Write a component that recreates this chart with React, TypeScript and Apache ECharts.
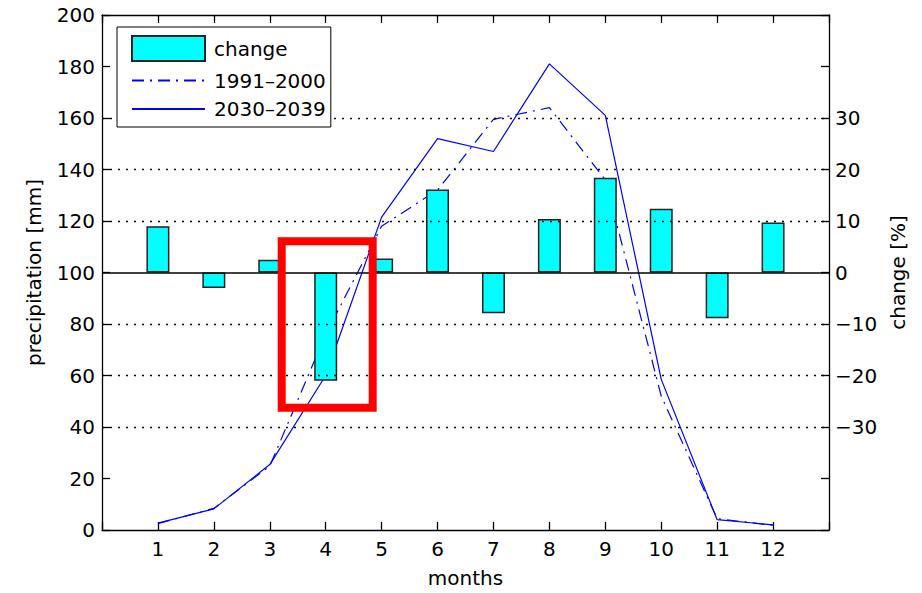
import React, { useEffect, useRef } from 'react';
import * as echarts from 'echarts';

const months = [1, 2, 3, 4, 5, 6, 7, 8, 9, 10, 11, 12];
const changePct = [9.0, -3.0, 2.5, -21.0, 2.7, 16.1, -7.9, 10.4, 18.4, 12.4, -8.9, 9.7];
const precip1991 = [2.5, 8.4, 24.8, 76, 118, 132, 159.5, 164, 136, 52, 4.4, 1.8];
const precip2030 = [2.7, 8.2, 25.4, 60, 121.5, 152, 147, 181, 161, 58.5, 4.0, 2.0];
const gridLevels = [40, 60, 80, 120, 140, 160];
const rightLabelRange = [-30, 30];
const seriesNames = ['change', '1991–2000', '2030–2039'];

const FONT = 'DejaVu Sans';

export default function App() {
  const ref = useRef<HTMLDivElement>(null);
  useEffect(() => {
    if (!ref.current) return;
    const chart = echarts.init(ref.current, undefined, { renderer: 'svg' });
    const axisLine = { show: true, onZero: false, lineStyle: { color: '#000', width: 1.3 } };
    const tick = { show: true, inside: true, length: 8, lineStyle: { color: '#000', width: 1.3 } };
    const fmtMinus = (v: number) => (v < 0 ? '−' + Math.abs(v) : String(v));
    const hiddenSymbol = { color: 'rgba(0,0,0,0)', borderColor: 'rgba(0,0,0,0)', borderWidth: 0 };
    chart.setOption({
      animation: false,
      textStyle: { fontFamily: FONT, color: '#000' },
      grid: { left: 102, right: 93, top: 15, bottom: 60, containLabel: false },
      legend: {
        orient: 'vertical',
        left: 117,
        top: 27,
        itemWidth: 73,
        itemHeight: 25,
        itemGap: 8.5,
        padding: [8, 5, 8, 14],
        backgroundColor: '#fff',
        borderColor: '#000',
        borderWidth: 1,
        textStyle: { fontFamily: FONT, fontSize: 20, color: '#000', padding: [0, 0, 0, 4] },
        data: [
          { name: seriesNames[0], icon: 'rect' },
          { name: seriesNames[1], itemStyle: hiddenSymbol },
          { name: seriesNames[2], itemStyle: hiddenSymbol },
        ],
        z: 10,
      },
      xAxis: [
        {
          type: 'value',
          position: 'bottom',
          min: 0,
          max: 13,
          interval: 1,
          name: 'months',
          nameLocation: 'middle',
          nameGap: 38,
          nameTextStyle: { fontFamily: FONT, fontSize: 20, color: '#000' },
          axisLine,
          axisTick: tick,
          splitLine: { show: false },
          axisLabel: {
            fontFamily: FONT,
            fontSize: 20,
            color: '#000',
            margin: 9,
            formatter: (v: number) => (v >= months[0] && v <= months[months.length - 1] ? String(v) : ''),
          },
        },
        {
          type: 'value',
          position: 'top',
          min: 0,
          max: 13,
          interval: 1,
          axisLine,
          axisTick: tick,
          splitLine: { show: false },
          axisLabel: { show: false },
        },
      ],
      yAxis: [
        {
          type: 'value',
          position: 'left',
          min: 0,
          max: 200,
          interval: 20,
          name: 'precipitation [mm]',
          nameLocation: 'middle',
          nameGap: 58,
          nameTextStyle: { fontFamily: FONT, fontSize: 20, color: '#000' },
          axisLine,
          axisTick: tick,
          splitLine: { show: false },
          axisLabel: { fontFamily: FONT, fontSize: 20, color: '#000', margin: 7 },
        },
        {
          type: 'value',
          position: 'right',
          min: -50,
          max: 50,
          interval: 10,
          name: 'change [%]',
          nameLocation: 'middle',
          nameRotate: 90,
          nameGap: 56,
          nameTextStyle: { fontFamily: FONT, fontSize: 20, color: '#000' },
          axisLine,
          axisTick: tick,
          splitLine: { show: false },
          axisLabel: {
            fontFamily: FONT,
            fontSize: 20,
            color: '#000',
            margin: 6,
            formatter: (v: number) => (v >= rightLabelRange[0] && v <= rightLabelRange[1] ? fmtMinus(v) : ''),
          },
        },
      ],
      series: [
        {
          name: seriesNames[0],
          type: 'bar',
          xAxisIndex: 0,
          yAxisIndex: 1,
          barWidth: 23,
          z: 3,
          itemStyle: { color: '#00FFFF', borderColor: '#222', borderWidth: 1.5 },
          data: months.map((m, i) => [m, changePct[i]]),
          markLine: {
            silent: true,
            symbol: ['none', 'none'],
            label: { show: false },
            lineStyle: { color: '#000', type: 'solid', width: 1.5 },
            data: [{ yAxis: 0 }],
          },
        },
        {
          name: seriesNames[1],
          type: 'line',
          xAxisIndex: 0,
          yAxisIndex: 0,
          z: 1,
          symbol: 'circle',
          showSymbol: false,
          lineStyle: { color: '#0000FF', width: 1.2, type: [12, 6, 2, 6] },
          itemStyle: { color: '#0000FF' },
          data: months.map((m, i) => [m, precip1991[i]]),
          markLine: {
            silent: true,
            symbol: ['none', 'none'],
            label: { show: false },
            lineStyle: { color: '#000', type: [2, 6], width: 1.3 },
            data: gridLevels.map((v) => ({ yAxis: v })),
          },
        },
        {
          name: seriesNames[2],
          type: 'line',
          xAxisIndex: 0,
          yAxisIndex: 0,
          z: 1,
          symbol: 'circle',
          showSymbol: false,
          lineStyle: { color: '#0000FF', width: 1.2, type: 'solid' },
          itemStyle: { color: '#0000FF' },
          data: months.map((m, i) => [m, precip2030[i]]),
        },
      ],
      graphic: [
        {
          type: 'rect',
          z: 100,
          shape: { x: 281.7, y: 241.3, width: 91, height: 166.4 },
          style: { fill: 'none', stroke: '#FF0000', lineWidth: 8 },
        },
      ],
    });
    return () => chart.dispose();
  }, []);
  return (
    <div
      ref={ref}
      style={{ position: 'fixed', left: 0, top: 0, width: 922, height: 593, background: '#fff' }}
    />
  );
}
